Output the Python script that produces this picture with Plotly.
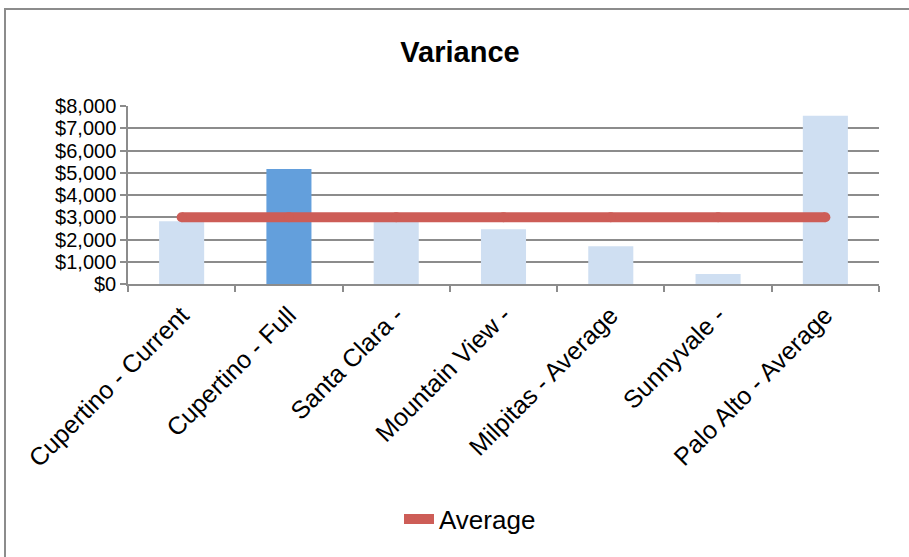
import plotly.graph_objects as go

categories = ["Cupertino - Current", "Cupertino - Full", "Santa Clara -",
              "Mountain View -", "Milpitas - Average", "Sunnyvale -",
              "Palo Alto - Average"]
variance = [2820, 5170, 2950, 2460, 1700, 450, 7560]
average = [3000, 3000, 3000, 3000, 3000, 3000, 3000]
bar_colors = ["#cfdff2", "#639fdc", "#cfdff2", "#cfdff2", "#cfdff2", "#cfdff2", "#cfdff2"]

W, H = 909, 557
L, R, T, B = 128, 879, 106, 284

fig = go.Figure()
fig.add_trace(go.Bar(x=categories, y=variance, marker=dict(color=bar_colors, line=dict(width=0)),
                     width=0.42, showlegend=False, hoverinfo="skip"))
# markers of the same size as the line give it rounded ends
fig.add_trace(go.Scatter(x=categories, y=average, mode="lines+markers", name="Average",
                         line=dict(color="#cd5d57", width=10),
                         marker=dict(color="#cd5d57", size=10)))

fig.update_layout(
    width=W, height=H,
    margin=dict(l=L, r=W - R, t=T, b=H - B),
    paper_bgcolor="white", plot_bgcolor="white",
    font=dict(family="Liberation Sans, Arial", size=20, color="black"),
    title=dict(text="<b>Variance</b>", x=460 / W, xref="container", xanchor="center",
               y=1 - 52 / H, yref="container", yanchor="middle",
               font=dict(size=29)),
    legend=dict(orientation="h", x=(470 - L) / (R - L), xanchor="center",
                y=1 - 519 / H, yref="container", yanchor="middle",
                font=dict(size=26), bgcolor="rgba(0,0,0,0)"),
)
fig.update_xaxes(tickangle=-45, tickson="boundaries", ticks="outside", ticklen=6,
                 tickcolor="#8c8c8c", tickwidth=1.5, showline=True, linecolor="#8c8c8c",
                 linewidth=1.5, showgrid=False, tickfont=dict(size=25),
                 ticklabelstandoff=5)
fig.update_yaxes(range=[0, 8000], dtick=1000, tickprefix="$", tickformat=",d",
                 ticks="outside", ticklen=6, tickcolor="#8c8c8c", tickwidth=1.5,
                 showline=True, linecolor="#8c8c8c", linewidth=1.5,
                 gridcolor="#8c8c8c", gridwidth=1.5, zeroline=False,
                 tickfont=dict(size=20))

# outer chart frame
fig.add_shape(type="rect", xref="paper", yref="paper",
              x0=(5 - L) / (R - L), x1=(W + 20 - L) / (R - L),
              y0=(B - H - 20) / (B - T), y1=(B - 9) / (B - T),
              line=dict(color="#8c8c8c", width=2), layer="below")

fig.write_html("out.html", config={"displayModeBar": False},
               post_script="document.body.style.margin='0';")
